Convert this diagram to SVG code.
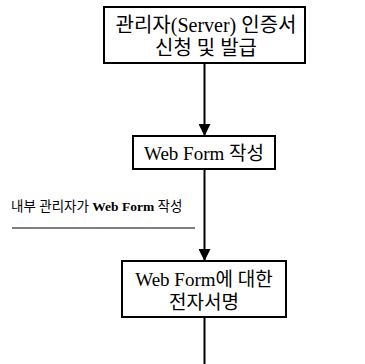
<svg xmlns="http://www.w3.org/2000/svg" width="365" height="364" viewBox="0 0 365 364">
<style>
.box{fill:#fff;stroke:#000;stroke-width:2}
.t{font-family:"Liberation Serif","Noto Sans CJK KR",serif;fill:#000;text-anchor:middle}
.ln{stroke:#000;stroke-width:2;fill:none}
</style>
<defs>
<marker id="ah" markerWidth="12" markerHeight="12" refX="12" refY="6" orient="auto" markerUnits="userSpaceOnUse">
<path d="M0,0 L12,6 L0,12 Z" fill="#000"/>
</marker>
</defs>
<rect width="365" height="364" fill="#fff"/>
<g id="connectors">
<line class="ln" x1="204.5" y1="63" x2="204.5" y2="136" marker-end="url(#ah)"/>
<line class="ln" x1="204.5" y1="169" x2="204.5" y2="261" marker-end="url(#ah)"/>
<line class="ln" x1="204.5" y1="318" x2="204.5" y2="364"/>
</g>
<g id="n1">
<rect class="box" x="104" y="7" width="201" height="56"/>
<text class="t" x="206" y="32" font-size="20">관리자(Server) 인증서</text>
<text class="t" x="206" y="55" font-size="20">신청 및 발급</text>
</g>
<g id="n2">
<rect class="box" x="133" y="136" width="142" height="33"/>
<text class="t" x="204" y="160" font-size="19">Web Form 작성</text>
</g>
<g id="label">
<text x="11" y="211" font-size="13.5" font-family="Liberation Serif,'Noto Sans CJK KR',serif">내부 관리자가 <tspan font-weight="bold">Web Form</tspan> 작성</text>
<line x1="12" y1="228" x2="195" y2="228" stroke="#000" stroke-width="1.2"/>
</g>
<g id="n3">
<rect class="box" x="122" y="261" width="164" height="56"/>
<text class="t" x="204" y="286" font-size="19">Web Form에 대한</text>
<text class="t" x="204" y="309" font-size="19">전자서명</text>
</g>
</svg>
